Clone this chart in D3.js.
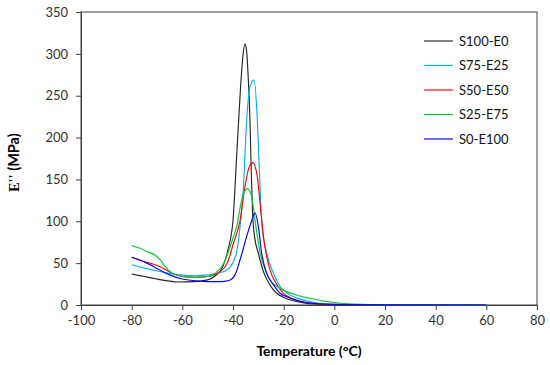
<!DOCTYPE html>
<html lang="en">
<head>
    <meta charset="UTF-8">
    <title>E'' vs Temperature</title>
    <script src="https://cdn.jsdelivr.net/npm/d3@7"></script>
    <style>
        body { margin: 0; background: #fff; }
        text { font-family: Lato, "Open Sans", sans-serif; }
    </style>
</head>
<body>
    <script>
        // temperature (°C) and E'' (MPa)
        const s100 = [[-80,37],[-75,34],[-70,31],[-65,28.5],[-62,27.5],[-55,28],[-50,30],[-47,35],[-44,46],[-42,66],[-40,101],[-38.5,181],[-37,261],[-36,300],[-35.3,312],[-34.7,305],[-34,272],[-33.3,220],[-32.8,160],[-32.3,112],[-31.5,82],[-30,62],[-28,40],[-25,22],[-22.7,14],[-20,9],[-16,5],[-12,2.5],[-8,1.2],[0,0.5],[20,0.2],[60,0]];
        const s75 = [[-80,48],[-75,44],[-69,40],[-61,36],[-54,35],[-50,36],[-46,38],[-43,41],[-41.2,45],[-39.5,54],[-38.5,64],[-37,100],[-35.9,141],[-34.6,221],[-33.3,261],[-31.7,269],[-30.4,221],[-29.6,161],[-28.7,101],[-26.7,62],[-24,38],[-21.4,22],[-18,13],[-13.5,7],[-8,3],[0,1],[20,0.3],[60,0]];
        const s50 = [[-80,57],[-75,52],[-69,46],[-64,38],[-60,34],[-55,33],[-50,34],[-45,40],[-42,52],[-40,72],[-37.2,101],[-35.3,141],[-33.6,165],[-32.2,170],[-30.4,153],[-29.3,121],[-28,82],[-25.4,42],[-23,26],[-20.1,14],[-17,8],[-13.5,4],[-8,2],[0,0.7],[20,0.2],[60,0]];
        const s25 = [[-80,71],[-77,68],[-74,64],[-71,60],[-69,55],[-67,47],[-65,40],[-62,36],[-60,34],[-55,33],[-50,34],[-47,38],[-44,48],[-42,62],[-40,80],[-38.5,94],[-36.6,125],[-34.3,139],[-32.6,129],[-31.3,101],[-29.3,62],[-27,40],[-25.4,30],[-22,21],[-18.8,16],[-14,11],[-9.6,8],[-5,5],[0,3],[5,1.5],[10,0.7],[20,0.3],[60,0]];
        const s0 = [[-80,57],[-74,50],[-69,42],[-65,36],[-60,31],[-55,29],[-50,28],[-45,28],[-42,29],[-40.5,31],[-39.2,36],[-37.2,54],[-34.6,82],[-32.6,101],[-31.3,110],[-30,94],[-28.7,62],[-26.7,38],[-24,24],[-21.4,14],[-18,9],[-16.2,7],[-12,3.5],[-6,1.5],[0,0.6],[20,0.2],[60,0]];

        const seriesNames = ['S100-E0', 'S75-E25', 'S50-E50', 'S25-E75', 'S0-E100'];
        const seriesData = [s100, s75, s50, s25, s0];
        const colors = ['#262626', '#00b0f0', '#ff0000', '#00cc33', '#0000ff'];

        const xTicks = d3.range(-100, 81, 20);
        const yTicks = d3.range(0, 351, 50);

        const width = 550, height = 365;
        const margin = {left: 81, right: 13, top: 12, bottom: 60};

        const x = d3.scaleLinear().domain([-100, 80]).range([margin.left, width - margin.right]);
        const y = d3.scaleLinear().domain([0, 350]).range([height - margin.bottom, margin.top]);

        const svg = d3.select("body").append('svg').attr("width", width).attr("height", height);

        // frame
        svg.append('rect')
            .attr('x', x(-100)).attr('y', y(350))
            .attr('width', x(80) - x(-100)).attr('height', y(0) - y(350))
            .attr('fill', 'none').attr('stroke', '#404040').attr('stroke-width', 1);

        const xAxis = svg.append('g').attr('transform', `translate(0, ${y(0)})`)
            .call(d3.axisBottom(x).tickValues(xTicks).tickFormat(d => String(d))
                .tickSize(5).tickSizeOuter(0).tickPadding(6));
        const yAxis = svg.append('g').attr('transform', `translate(${x(-100)}, 0)`)
            .call(d3.axisLeft(y).tickValues(yTicks).tickFormat(d => String(d))
                .tickSize(5).tickSizeOuter(0).tickPadding(8));
        [xAxis, yAxis].forEach(a => {
            a.select('.domain').attr('stroke', '#404040');
            a.selectAll('.tick line').attr('stroke', '#404040');
            a.selectAll('.tick text').attr('font-size', 13).attr('fill', '#333')
                .style('font-family', 'Lato, "Open Sans", sans-serif');
        });

        const line = d3.line().x(d => x(d[0])).y(d => y(d[1])).curve(d3.curveMonotoneX);

        svg.append('g').selectAll('path').data(seriesData).enter().append('path')
            .attr('d', line).attr('fill', 'none')
            .attr('stroke', (d, i) => colors[i]).attr('stroke-width', 1.15);

        // legend
        const legend = svg.append('g');
        seriesNames.forEach((name, i) => {
            const ly = 41 + i * 24.5;
            legend.append('line').attr('x1', 424).attr('x2', 453).attr('y1', ly).attr('y2', ly)
                .attr('stroke', colors[i]).attr('stroke-width', 1.15);
            legend.append('text').attr('x', 459).attr('y', ly + 4.5).attr('font-size', 13)
                .attr('fill', '#111').text(name);
        });

        // axis titles
        svg.append('text').attr('x', (x(-100) + x(80)) / 2).attr('y', 356)
            .attr('text-anchor', 'middle').attr('font-size', 14).attr('font-weight', 'bold')
            .text('Temperature (°C)');
        const yt = svg.append('text').attr('transform', `translate(19, ${y(170)}) rotate(-90)`)
            .attr('text-anchor', 'middle').attr('font-size', 14.5).attr('font-weight', 'bold');
        yt.append('tspan').style('font-family', '"Liberation Serif", serif').text("E''");
        yt.append('tspan').text(' (MPa)');
    </script>
</body>
</html>
